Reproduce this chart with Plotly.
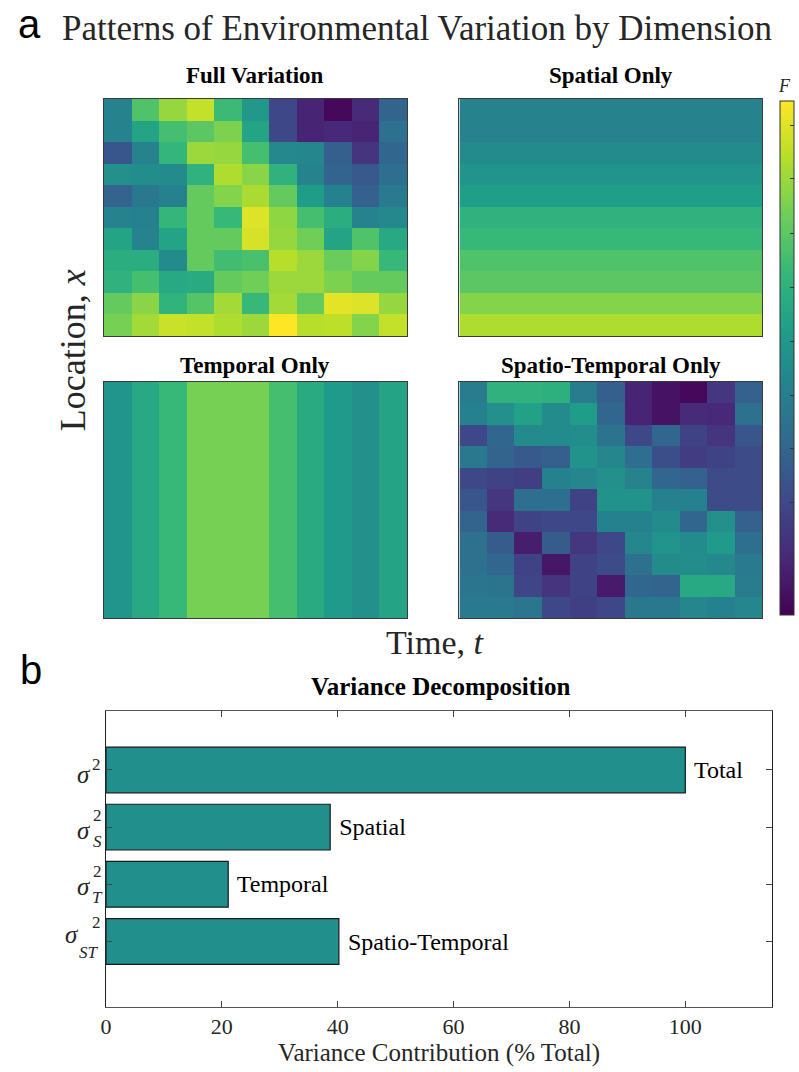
import plotly.graph_objects as go

W, H = 799, 1072

# ---------------- data ----------------
full = [
    [0.45, 0.72, 0.84, 0.91, 0.68, 0.53, 0.22, 0.10, 0.02, 0.12, 0.32],
    [0.45, 0.58, 0.70, 0.74, 0.80, 0.58, 0.22, 0.10, 0.11, 0.10, 0.37],
    [0.27, 0.45, 0.66, 0.85, 0.84, 0.70, 0.47, 0.46, 0.30, 0.15, 0.33],
    [0.50, 0.49, 0.48, 0.64, 0.88, 0.82, 0.64, 0.45, 0.32, 0.28, 0.36],
    [0.32, 0.40, 0.44, 0.76, 0.81, 0.87, 0.76, 0.55, 0.44, 0.31, 0.41],
    [0.45, 0.44, 0.66, 0.76, 0.67, 0.95, 0.83, 0.70, 0.62, 0.45, 0.47],
    [0.58, 0.45, 0.58, 0.76, 0.76, 0.94, 0.84, 0.78, 0.58, 0.72, 0.60],
    [0.62, 0.62, 0.48, 0.76, 0.69, 0.71, 0.89, 0.85, 0.77, 0.81, 0.67],
    [0.64, 0.70, 0.60, 0.61, 0.76, 0.78, 0.85, 0.85, 0.80, 0.76, 0.76],
    [0.76, 0.82, 0.65, 0.73, 0.86, 0.67, 0.86, 0.76, 0.96, 0.95, 0.84],
    [0.79, 0.86, 0.92, 0.91, 0.88, 0.85, 1.00, 0.89, 0.90, 0.81, 0.91],
]

spatial = [0.45, 0.45, 0.48, 0.52, 0.56, 0.64, 0.67, 0.72, 0.74, 0.81, 0.88]

temporal = [0.52, 0.60, 0.67, 0.79, 0.79, 0.79, 0.70, 0.61, 0.54, 0.50, 0.58]

spatio_temporal = [
    [0.42, 0.64, 0.64, 0.63, 0.42, 0.30, 0.10, 0.05, 0.02, 0.16, 0.31],
    [0.44, 0.50, 0.57, 0.48, 0.55, 0.33, 0.10, 0.05, 0.12, 0.11, 0.37],
    [0.22, 0.33, 0.48, 0.48, 0.49, 0.38, 0.22, 0.33, 0.20, 0.15, 0.27],
    [0.40, 0.32, 0.28, 0.30, 0.51, 0.46, 0.36, 0.24, 0.18, 0.20, 0.23],
    [0.22, 0.20, 0.19, 0.44, 0.46, 0.50, 0.45, 0.33, 0.31, 0.23, 0.23],
    [0.27, 0.16, 0.36, 0.36, 0.20, 0.51, 0.51, 0.44, 0.44, 0.23, 0.23],
    [0.32, 0.12, 0.20, 0.22, 0.22, 0.44, 0.44, 0.48, 0.33, 0.50, 0.31],
    [0.37, 0.29, 0.08, 0.29, 0.16, 0.22, 0.46, 0.52, 0.48, 0.54, 0.36],
    [0.37, 0.33, 0.20, 0.06, 0.20, 0.23, 0.37, 0.48, 0.49, 0.47, 0.41],
    [0.39, 0.38, 0.21, 0.15, 0.20, 0.07, 0.33, 0.32, 0.60, 0.60, 0.42],
    [0.41, 0.41, 0.39, 0.22, 0.19, 0.22, 0.40, 0.40, 0.46, 0.44, 0.46],
]

panel_titles = ["Full Variation", "Spatial Only", "Temporal Only", "Spatio-Temporal Only"]

bar_labels = ["Total", "Spatial", "Temporal", "Spatio-Temporal"]
bar_values = [100, 38.7, 21.1, 40.2]
bar_positions = [4, 3, 2, 1]
sigma_subscripts = ["", "S", "T", "ST"]

x_ticks = [0, 20, 40, 60, 80, 100]
cbar_ticks = [0.111, 0.218, 0.323, 0.428, 0.533, 0.638, 0.743, 0.850, 0.953]

# ---------------- helpers ----------------
SERIF = "Liberation Serif"
SANS = "Liberation Sans"


def px_x(p):
    return p / W


def px_y(p):
    return 1 - p / H


n_rows = len(spatial)
n_cols = len(temporal)
spatial_grid = [[v] * n_cols for v in spatial]
temporal_grid = [list(temporal) for _ in range(n_rows)]

grids = [full, spatial_grid, temporal_grid, spatio_temporal]

# panel boxes in pixels: (x0, x1, y0, y1)
boxes = [
    (100, 406, 99, 336),
    (459, 765, 99, 336),
    (100, 406, 382, 618),
    (459, 765, 382, 618),
]

fig = go.Figure()
layout = {}
annotations = []

for i, (z, box) in enumerate(zip(grids, boxes)):
    k = i + 1
    xa = "x" if k == 1 else f"x{k}"
    ya = "y" if k == 1 else f"y{k}"
    fig.add_trace(go.Heatmap(z=z, coloraxis="coloraxis", xaxis=xa, yaxis=ya,
                             hoverinfo="skip", xgap=0, ygap=0))
    x0, x1, y0, y1 = box
    axkey = "xaxis" if k == 1 else f"xaxis{k}"
    aykey = "yaxis" if k == 1 else f"yaxis{k}"
    layout[axkey] = dict(domain=[px_x(x0), px_x(x1)], anchor=ya, range=[-0.5, n_cols - 0.5],
                         showticklabels=False, ticks="", showgrid=False, zeroline=False,
                         showline=True, mirror=True, linecolor="#3a3a3a", linewidth=1)
    layout[aykey] = dict(domain=[px_y(y1), px_y(y0)], anchor=xa, range=[n_rows - 0.5, -0.5],
                         showticklabels=False, ticks="", showgrid=False, zeroline=False,
                         showline=True, mirror=True, linecolor="#3a3a3a", linewidth=1)
    title_y = 75 if i < 2 else 365
    annotations.append(dict(text=f"<b>{panel_titles[i]}</b>", xref="paper", yref="paper",
                            x=px_x((x0 + x1) / 2), y=px_y(title_y), xanchor="center", yanchor="middle",
                            showarrow=False, font=dict(family=SERIF, size=23, color="black")))

# ---------------- bar chart ----------------
fig.add_trace(go.Bar(x=bar_values, y=bar_positions, orientation="h", width=0.8,
                     marker=dict(color="#21908d", line=dict(color="#1a1a1a", width=1.2)),
                     text=bar_labels, texttemplate=" %{text}", textposition="outside",
                     constraintext="none", cliponaxis=False,
                     textfont=dict(family=SERIF, size=24, color="black"),
                     xaxis="x5", yaxis="y5", hoverinfo="skip"))

layout["xaxis5"] = dict(domain=[px_x(102), px_x(775)], anchor="y5", range=[0, 115],
                        tickvals=x_ticks, ticks="inside", ticklen=6, tickcolor="#444",
                        showgrid=False, zeroline=False, showline=True, mirror="ticks",
                        linecolor="#555", linewidth=1,
                        tickfont=dict(family=SERIF, size=22, color="#262626"),
                        title=dict(text="Variance Contribution (% Total)",
                                   font=dict(family=SERIF, size=25, color="#262626"), standoff=4))
layout["yaxis5"] = dict(domain=[px_y(1007), px_y(711)], anchor="x5", range=[-0.145, 5.03],
                        tickvals=bar_positions, ticktext=[""] * len(bar_positions),
                        ticks="inside", ticklen=6, tickcolor="#444",
                        showgrid=False, zeroline=False, showline=True, mirror="ticks",
                        linecolor="#222", linewidth=1)

# sigma labels (centre positions in px and vertical offsets per row)
sigma_style = [
    # sigma_cx, sigma_yshift, two_cx, two_yshift, sub_cx, sub_yshift
    (80, -5, 92.5, 5, 93, 0),
    (80, -3, 93, 12, 93, -14),
    (80, -2, 93, 13, 93, -13),
    (68, 7, 92.5, 19, 84.5, -11),
]
for pos, sub, st in zip(bar_positions, sigma_subscripts, sigma_style):
    sc, sy, tc, ty, bc, by = st
    annotations.append(dict(text="<i>σ</i>", xref="paper", yref="y5", x=px_x(sc), y=pos,
                            xanchor="center", yanchor="middle", yshift=sy, showarrow=False,
                            font=dict(family=SERIF, size=25, color="#262626")))
    annotations.append(dict(text="2", xref="paper", yref="y5", x=px_x(tc), y=pos,
                            xanchor="center", yanchor="middle", yshift=ty, showarrow=False,
                            font=dict(family=SERIF, size=17, color="#262626")))
    if sub:
        annotations.append(dict(text=f"<i>{sub}</i>", xref="paper", yref="y5", x=px_x(bc), y=pos,
                                xanchor="center", yanchor="middle", yshift=by, showarrow=False,
                                font=dict(family=SERIF, size=17, color="#262626")))

# ---------------- text ----------------
annotations += [
    dict(text="a", xref="paper", yref="paper", x=px_x(25), y=px_y(24), xanchor="center",
         yanchor="middle", showarrow=False, font=dict(family=SANS, size=40, color="black")),
    dict(text="b", xref="paper", yref="paper", x=px_x(26), y=px_y(670), xanchor="center",
         yanchor="middle", showarrow=False, font=dict(family=SANS, size=40, color="black")),
    dict(text="Patterns of Environmental Variation by Dimension", xref="paper", yref="paper",
         x=px_x(416), y=px_y(28), xanchor="center", yanchor="middle", showarrow=False,
         font=dict(family=SERIF, size=35, color="#262626")),
    dict(text="Location, <i>x</i>", xref="paper", yref="paper", x=px_x(69), y=px_y(350),
         xanchor="center", yanchor="middle", textangle=-90, showarrow=False,
         font=dict(family=SERIF, size=36, color="#262626")),
    dict(text="Time, <i>t</i>", xref="paper", yref="paper", x=px_x(435), y=px_y(642),
         xanchor="center", yanchor="middle", showarrow=False,
         font=dict(family=SERIF, size=34, color="#262626")),
    dict(text="<b>Variance Decomposition</b>", xref="paper", yref="paper", x=px_x(440),
         y=px_y(686), xanchor="center", yanchor="middle", showarrow=False,
         font=dict(family=SERIF, size=25, color="black")),
    dict(text="<i>F</i>", xref="paper", yref="paper", x=px_x(787), y=px_y(86),
         xanchor="center", yanchor="middle", showarrow=False,
         font=dict(family=SERIF, size=18, color="#262626")),
]

fig.update_layout(
    width=W, height=H, margin=dict(l=0, r=0, t=0, b=0),
    paper_bgcolor="white", plot_bgcolor="white", showlegend=False,
    coloraxis=dict(colorscale="Viridis", cmin=0, cmax=1,
                   colorbar=dict(x=px_x(783), xanchor="left", y=px_y(101), yanchor="top",
                                 len=(615 - 101) / H, lenmode="fraction", thickness=14,
                                 thicknessmode="pixels", outlinewidth=1, outlinecolor="#333",
                                 ticks="inside", ticklen=4, tickcolor="#333",
                                 tickvals=cbar_ticks, showticklabels=False, xpad=0, ypad=0)),
    annotations=annotations,
    **layout,
)

fig.write_html("out.html")
